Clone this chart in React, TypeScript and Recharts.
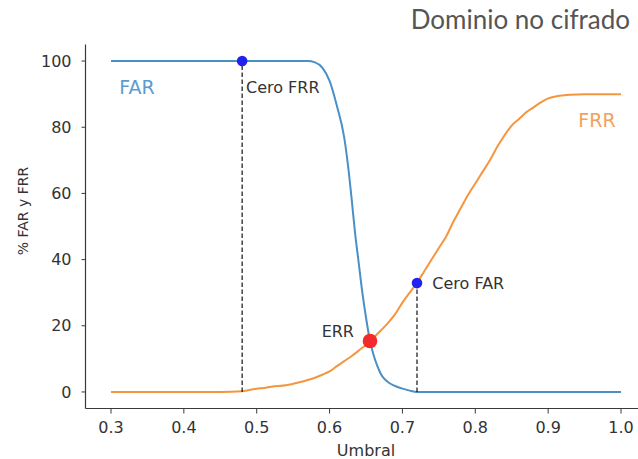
import React from 'react';
import { ComposedChart, Line, XAxis, YAxis, Scatter } from 'recharts';

// Threshold values (Umbral) and rates (%)
const farX = [0.3, 0.4, 0.5, 0.57, 0.58, 0.59, 0.6, 0.61, 0.62, 0.625, 0.63, 0.635, 0.64, 0.645, 0.65, 0.655, 0.66, 0.665, 0.67, 0.675, 0.68, 0.69, 0.7, 0.71, 0.72, 0.8, 0.9, 1.0];
const farY = [100, 100, 100, 100, 99.6, 98, 94, 86.5, 77, 69, 59, 48, 39, 30, 22.5, 16, 11.5, 8.2, 5.6, 4.0, 3.0, 1.8, 1.0, 0.4, 0, 0, 0, 0];

const frrX = [0.3, 0.35, 0.4, 0.45, 0.48, 0.49, 0.5, 0.51, 0.52, 0.54, 0.56, 0.57, 0.58, 0.59, 0.6, 0.61, 0.62, 0.63, 0.64, 0.65, 0.66, 0.67, 0.68, 0.69, 0.7, 0.71, 0.72, 0.73, 0.74, 0.75, 0.76, 0.77, 0.78, 0.79, 0.8, 0.81, 0.82, 0.83, 0.84, 0.85, 0.86, 0.87, 0.88, 0.89, 0.9, 0.91, 0.92, 0.93, 0.95, 1.0];
const frrY = [0, 0, 0, 0, 0.2, 0.6, 1.0, 1.2, 1.6, 2.0, 3.0, 3.6, 4.3, 5.2, 6.2, 7.8, 9.3, 10.8, 12.5, 14.3, 16.3, 18.5, 20.8, 23.5, 27, 30, 33, 36.5, 40, 43.5, 47, 51.5, 55.5, 59.5, 63, 66.5, 70, 74, 77.5, 80.5, 82.5, 84.5, 86, 87.5, 88.7, 89.3, 89.6, 89.8, 90, 90];

const xTicks = [0.3, 0.4, 0.5, 0.6, 0.7, 0.8, 0.9, 1.0];
const yTicks = [0, 20, 40, 60, 80, 100];

const zeroFrrPoint = [{ x: 0.48, y: 100 }];
const zeroFarPoint = [{ x: 0.72, y: 32.9 }];
const errPoint = [{ x: 0.6555, y: 15.4 }];

const zeroFrrDrop = [{ x: 0.48, y: 0 }, { x: 0.48, y: 100 }];
const zeroFarDrop = [{ x: 0.72, y: 0 }, { x: 0.72, y: 32.9 }];

// Text annotations in data coordinates
const annotations = [
  { x: 0.3114, y: 90.0, label: 'FAR', kind: 'far' },
  { x: 0.9414, y: 80.0, label: 'FRR', kind: 'frr' },
  { x: 0.4853, y: 90.2, label: 'Cero FRR', kind: 'note' },
  { x: 0.741, y: 31.0, label: 'Cero FAR', kind: 'note' },
  { x: 0.6335, y: 16.7, label: 'ERR', kind: 'noteEnd' },
];

const farData = farX.map((x, i) => ({ x, y: farY[i] }));
const frrData = frrX.map((x, i) => ({ x, y: frrY[i] }));

const BLUE = '#4a8fc6';
const ORANGE = '#f5963f';
const AXIS = '#3a3a3a';
const FONT = 'DejaVu Sans';

const AnnotationShape = (p: any) => {
  const a = p.payload;
  const style: any = {
    far: { fill: '#5b9bd0', fontSize: 19, anchor: 'start' },
    frr: { fill: '#f2a15a', fontSize: 19, anchor: 'start' },
    note: { fill: '#333', fontSize: 16, anchor: 'start' },
    noteEnd: { fill: '#333', fontSize: 16, anchor: 'end' },
  }[a.kind];
  return (
    <text x={p.cx} y={p.cy} textAnchor={style.anchor} fontFamily={FONT} fontSize={style.fontSize} fill={style.fill}>
      {a.label}
    </text>
  );
};

const YLabel = () => (
  <text x={28} y={211} transform="rotate(-90 28 211)" textAnchor="middle" fontFamily={FONT} fontSize={14} fill="#333">
    % FAR y FRR
  </text>
);

export default function App() {
  return (
    <div style={{ position: 'absolute', left: 0, top: 0, width: 638, height: 459, overflow: 'hidden', background: '#fff' }}>
      <ComposedChart width={660} height={459} margin={{ top: 44.5, right: 13.5, bottom: 0, left: 0 }}>
        <XAxis
          dataKey="x"
          type="number"
          domain={[0.265, 1.035]}
          ticks={xTicks}
          interval={0}
          allowDataOverflow
          tickFormatter={(v: number) => v.toFixed(1)}
          height={50.5}
          tickSize={5}
          tickMargin={8}
          axisLine={{ stroke: AXIS, strokeWidth: 1.2 }}
          tickLine={{ stroke: AXIS, strokeWidth: 1 }}
          tick={{ fill: '#333', fontSize: 16, fontFamily: FONT }}
          label={{ value: 'Umbral', position: 'insideBottom', offset: 3, fill: '#333', fontSize: 16, fontFamily: FONT }}
        />
        <XAxis
          xAxisId="top"
          orientation="top"
          dataKey="x"
          type="number"
          domain={[0.265, 1.035]}
          height={0}
          tick={false}
          tickLine={false}
          axisLine={{ stroke: AXIS, strokeWidth: 1.2 }}
        />
        <YAxis
          type="number"
          domain={[-5, 105]}
          ticks={yTicks}
          interval={0}
          allowDataOverflow
          width={85.5}
          tickSize={4}
          tickMargin={10}
          axisLine={{ stroke: AXIS, strokeWidth: 1.2 }}
          tickLine={{ stroke: AXIS, strokeWidth: 1 }}
          tick={{ fill: '#333', fontSize: 16, fontFamily: FONT }}
          label={<YLabel />}
        />
        <Line data={farData} dataKey="y" type="monotone" stroke={BLUE} strokeWidth={2} dot={false} isAnimationActive={false} />
        <Line data={frrData} dataKey="y" type="monotone" stroke={ORANGE} strokeWidth={2} dot={false} isAnimationActive={false} />
        <Line data={zeroFrrDrop} dataKey="y" type="linear" stroke="#111" strokeWidth={1.2} strokeDasharray="4.5 2.5" dot={false} isAnimationActive={false} />
        <Line data={zeroFarDrop} dataKey="y" type="linear" stroke="#111" strokeWidth={1.2} strokeDasharray="4.5 2.5" dot={false} isAnimationActive={false} />
        <Scatter data={zeroFrrPoint} dataKey="y" isAnimationActive={false} shape={(p: any) => <circle cx={p.cx} cy={p.cy} r={5.3} fill="#2222ee" />} />
        <Scatter data={zeroFarPoint} dataKey="y" isAnimationActive={false} shape={(p: any) => <circle cx={p.cx} cy={p.cy} r={5.3} fill="#2222ee" />} />
        <Scatter data={errPoint} dataKey="y" isAnimationActive={false} shape={(p: any) => <circle cx={p.cx} cy={p.cy} r={7.3} fill="#f22a2a" />} />
        <Scatter data={annotations} dataKey="y" isAnimationActive={false} shape={AnnotationShape} />
      </ComposedChart>
      <svg style={{ position: 'absolute', left: 0, top: 0 }} width={638} height={44}>
        <text x={630} y={29.3} textAnchor="end" fontFamily="Lato" fontSize={26} fill="#555">
          Dominio no cifrado
        </text>
      </svg>
    </div>
  );
}
